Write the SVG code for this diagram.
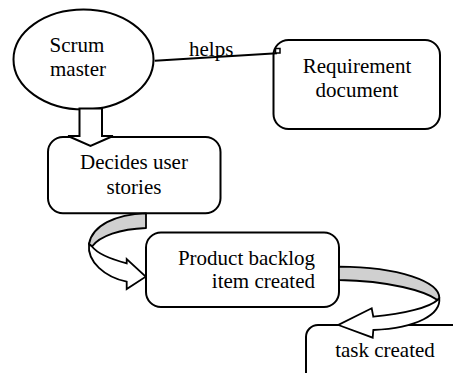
<svg xmlns="http://www.w3.org/2000/svg" width="453" height="373" viewBox="0 0 453 373">
  <style>
    .shape { fill: #ffffff; stroke: #000000; stroke-width: 2; }
    .label { font-family: "Liberation Serif", "Times New Roman", serif; font-size: 21px; fill: #000000; }
    .mid { text-anchor: middle; }
    .end { text-anchor: end; }
    .band-back { fill: #d0d0d0; stroke: #000000; stroke-width: 1.8; stroke-linejoin: round; }
    .band-front { fill: #ffffff; stroke: #000000; stroke-width: 1.8; stroke-linejoin: miter; }
    .link { fill: none; stroke: #000000; stroke-width: 2; }
  </style>

  <rect x="0" y="0" width="453" height="373" fill="#ffffff"/>

  <!-- nodes -->
  <g id="scrum-master">
    <ellipse class="shape" cx="83.5" cy="59.5" rx="70" ry="50"/>
    <text class="label mid" x="77" y="52">Scrum</text>
    <text class="label mid" x="78" y="76">master</text>
  </g>

  <g id="requirement-document">
    <rect class="shape" x="273.5" y="40" width="166.5" height="89" rx="15"/>
    <text class="label mid" x="357" y="73">Requirement</text>
    <text class="label mid" x="357" y="97">document</text>
  </g>

  <g id="decides-user-stories">
    <rect class="shape" x="48" y="137" width="172.5" height="76.3" rx="15"/>
    <text class="label mid" x="134" y="169">Decides user</text>
    <text class="label mid" x="134" y="194">stories</text>
  </g>

  <g id="product-backlog-item">
    <rect class="shape" x="146" y="232.5" width="193" height="74.5" rx="15"/>
    <text class="label end" x="315" y="265">Product backlog</text>
    <text class="label end" x="315" y="288">item created</text>
  </g>

  <g id="task-created">
    <rect class="shape" x="306" y="325" width="200" height="100" rx="12"/>
    <text class="label mid" x="385" y="357">task created</text>
  </g>

  <!-- connectors -->
  <g id="connectors">
    <!-- helps -->
    <line class="link" x1="154.7" y1="60.7" x2="277" y2="53.3"/>
    <rect x="275.5" y="48.5" width="4.5" height="4.5" fill="#ffffff" stroke="#000000" stroke-width="1.5"/>
    <text class="label" x="189" y="56">helps</text>

    <!-- block arrow down -->
    <polygon class="shape" stroke-linejoin="miter"
             points="79.5,108.5 102,108.5 102,136 113,136 90.5,146 68,136 79.5,136"/>

    <!-- curved arrow: user stories to backlog item -->
    <path class="band-back" d="M146,213.3 C115,214 92,226 89,244 L92,246.5 C100,236 120,229 146,228 Z"/>
    <path class="band-front" d="M89,244 C87,262 105,277 126.7,281.7 L126.7,289 L145.7,276.7 L126.7,259 L126.7,263.3 C110,259 97,253 92,246.5 Z"/>

    <!-- curved arrow: backlog item to task -->
    <path class="band-back" d="M339,266.7 C400,267 439.3,282 439.3,298 L437.5,300 C425,291 390,281 339,280 Z"/>
    <path class="band-front" d="M439.3,298 C441,314 418,328 373.3,330 L372.7,337.7 L338.3,325 L371.7,308.3 L373.3,316.7 C405,314 430,307 437.5,300 Z"/>
  </g>
</svg>
